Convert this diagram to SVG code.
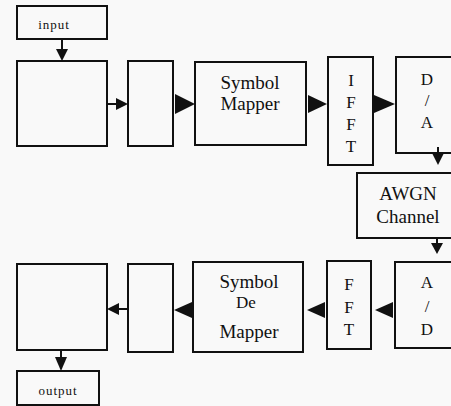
<svg xmlns="http://www.w3.org/2000/svg" width="451" height="406" viewBox="0 0 451 406">
<style>
.box{fill:none;stroke:#111;stroke-width:2}
.t{font-family:"Liberation Serif","Times New Roman",serif;fill:#111;text-anchor:middle}
.s{font-size:13px}
.m{font-size:19px}
.l{font-size:17px}
.ln{stroke:#111;stroke-width:2;fill:none}
.hd{fill:#111;stroke:none}
</style>
<rect x="0" y="0" width="451" height="406" fill="#f9f9f9"/>
<g id="input">
<rect class="box" x="17" y="6" width="90" height="33"/>
<text class="t s" x="54" y="29" letter-spacing="1">input</text>
</g>
<g id="block1">
<rect class="box" x="17" y="61" width="90" height="85"/>
</g>
<g id="block2">
<rect class="box" x="128" y="61" width="45" height="85"/>
</g>
<g id="symbol-mapper">
<rect class="box" x="195" y="62" width="111" height="83"/>
<text class="t m" x="250" y="89">Symbol</text>
<text class="t m" x="250" y="110">Mapper</text>
</g>
<g id="ifft">
<rect class="box" x="328" y="57" width="45" height="108"/>
<text class="t l" x="351" y="86">I</text>
<text class="t l" x="351" y="108">F</text>
<text class="t l" x="351" y="130">F</text>
<text class="t l" x="351" y="152">T</text>
</g>
<g id="da">
<rect class="box" x="396" y="57" width="70" height="96"/>
<text class="t l" x="427" y="85">D</text>
<text class="t l" x="427" y="106">/</text>
<text class="t l" x="427" y="128">A</text>
</g>
<g id="awgn">
<rect class="box" x="357" y="173" width="110" height="65"/>
<text class="t m" x="408" y="200">AWGN</text>
<text class="t m" x="408" y="223">Channel</text>
</g>
<g id="ad">
<rect class="box" x="395" y="262" width="70" height="86"/>
<text class="t l" x="427" y="288">A</text>
<text class="t l" x="427" y="312">/</text>
<text class="t l" x="427" y="335">D</text>
</g>
<g id="fft">
<rect class="box" x="327" y="261" width="44" height="88"/>
<text class="t l" x="349" y="290">F</text>
<text class="t l" x="349" y="313">F</text>
<text class="t l" x="349" y="335">T</text>
</g>
<g id="symbol-demapper">
<rect class="box" x="193" y="262" width="110" height="90"/>
<text class="t m" x="249" y="288">Symbol</text>
<text class="t l" x="246" y="308">De</text>
<text class="t m" x="249" y="338">Mapper</text>
</g>
<g id="block3">
<rect class="box" x="128" y="264" width="45" height="88"/>
</g>
<g id="block4">
<rect class="box" x="17" y="264" width="90" height="86"/>
</g>
<g id="output">
<rect class="box" x="17" y="371" width="82" height="34"/>
<text class="t s" x="58" y="395" letter-spacing="1">output</text>
</g>
<g id="connectors">
<line class="ln" x1="62" y1="39" x2="62" y2="51"/>
<polygon class="hd" points="56,49 68,49 62,61"/>
<line class="ln" x1="107" y1="104" x2="118" y2="104"/>
<polygon class="hd" points="116,98 116,110 128,104"/>
<polygon class="hd" points="175,94 175,114 195,104"/>
<polygon class="hd" points="308,95 308,113 327,104"/>
<polygon class="hd" points="374,95 374,113 395,104"/>
<line class="ln" x1="438" y1="147" x2="438" y2="155"/>
<polygon class="hd" points="432,153 444,153 438,165"/>
<line class="ln" x1="437" y1="238" x2="437" y2="245"/>
<polygon class="hd" points="431,243 443,243 437,254"/>
<polygon class="hd" points="393,302 393,318 375,310"/>
<polygon class="hd" points="325,302 325,318 307,310"/>
<polygon class="hd" points="192,302 192,318 174,310"/>
<line class="ln" x1="128" y1="309" x2="117" y2="309"/>
<polygon class="hd" points="119,303 119,315 107,309"/>
<line class="ln" x1="61" y1="350" x2="61" y2="359"/>
<polygon class="hd" points="55,357 67,357 61,371"/>
</g>
</svg>
